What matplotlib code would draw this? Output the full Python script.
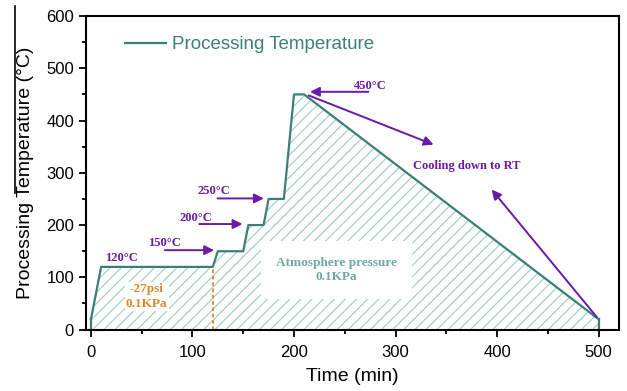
import numpy as np
import matplotlib.pyplot as plt
from matplotlib.lines import Line2D

# temperature profile (min, degC)
time_min = [0, 10, 120, 125, 150, 155, 170, 175, 190, 200, 210, 500]
temp_c = [20, 120, 120, 150, 150, 200, 200, 250, 250, 450, 450, 20]

# step annotations: label, text pos, arrow tail, arrow head
step_labels = ['120°C', '150°C', '200°C', '250°C', '450°C']
label_pos = [(30, 137), (72, 166), (103, 214), (121, 265), (275, 467)]
arrow_tail = [None, (70, 152), (104, 202), (122, 251), (276, 455)]
arrow_head = [None, (124, 152), (152, 202), (173, 251), (213, 455)]

teal = '#3b8077'
hatch_col = '#a3cbc4'
purple = '#6a1aa6'
orange = '#d9892a'

plt.rcParams['hatch.linewidth'] = 0.8
plt.rcParams['hatch.color'] = hatch_col

fig = plt.figure(figsize=(6.27, 3.91), dpi=100)
ax = fig.add_axes([0.137, 0.157, 0.85, 0.802])

# hatched area under the curve
ax.fill_between(time_min, temp_c, 0, facecolor='none', edgecolor=hatch_col,
                hatch='///', linewidth=0)
ax.plot(time_min, temp_c, color=teal, lw=1.6, label='Processing Temperature')
ax.plot([time_min[0], time_min[0]], [0, temp_c[0]], color=teal, lw=1.6)
ax.plot([time_min[-1], time_min[-1]], [0, temp_c[-1]], color=teal, lw=1.6)

# vacuum stage boundary
ax.plot([120, 120], [0, 120], color=orange, ls=(0, (2, 1.5)), lw=1.3)

serif = 'Liberation Serif'
for lab, pos, tail, head in zip(step_labels, label_pos, arrow_tail, arrow_head):
    ax.text(pos[0], pos[1], lab, color=purple, family=serif, weight='bold',
            fontsize=9, ha='center', va='center')
    if tail is not None:
        ax.annotate('', xy=head, xytext=tail,
                    arrowprops=dict(arrowstyle='-|>', color=purple, lw=1.4,
                                    mutation_scale=14))

# cooling arrows
ax.annotate('', xy=(340, 352), xytext=(212, 450),
            arrowprops=dict(arrowstyle='-|>', color=purple, lw=1.4, mutation_scale=14))
ax.annotate('', xy=(393, 272), xytext=(500, 20),
            arrowprops=dict(arrowstyle='-|>', color=purple, lw=1.4, mutation_scale=14))
ax.text(370, 314, 'Cooling down to RT', color=purple, family=serif, weight='bold',
        fontsize=9, ha='center', va='center')

ax.text(55, 63, '-27psi\n0.1KPa', color=orange, family=serif, weight='bold',
        fontsize=9.5, ha='center', va='center', linespacing=1.3,
        bbox=dict(fc='white', ec='none', pad=1))
ax.text(242, 114, 'Atmosphere pressure\n0.1KPa', color='#6fa9a1', family=serif,
        weight='bold', fontsize=9.5, ha='center', va='center', linespacing=1.3,
        bbox=dict(fc='white', ec='none', pad=11))

ax.set_xlim(-5, 520)
ax.set_ylim(0, 600)
ax.set_xticks([0, 100, 200, 300, 400, 500])
ax.set_xticks(np.arange(50, 500, 100), minor=True)
ax.set_yticks(np.arange(0, 601, 100))
ax.set_yticks(np.arange(50, 600, 100), minor=True)
ax.tick_params(which='both', direction='out', top=False, right=False, width=1.3)
ax.tick_params(which='major', length=5, labelsize=12)
ax.tick_params(axis='x', which='major', pad=6)
ax.tick_params(which='minor', length=3)
for lab in ax.get_xticklabels() + ax.get_yticklabels():
    lab.set_family('Liberation Sans')
for sp in ax.spines.values():
    sp.set_linewidth(1.5)

ax.set_xlabel('Time (min)', family='Liberation Sans', fontsize=14, labelpad=6)
ax.set_ylabel('Processing Temperature (°C)', family='Liberation Sans', fontsize=14,
              labelpad=9)

leg = ax.legend(loc='upper left', frameon=False, prop={'family': 'Liberation Sans', 'size': 13.5},
                handlelength=2.2, handletextpad=0.35, bbox_to_anchor=(0.041, 0.99))
for t in leg.get_texts():
    t.set_color(teal)

# stray overline beside the y label, as in the source image
fig.add_artist(Line2D([15 / 627, 15 / 627], [1 - 6 / 391, 1 - 193 / 391],
                      color='black', lw=1.2))

fig.savefig('out.png', dpi=100)
